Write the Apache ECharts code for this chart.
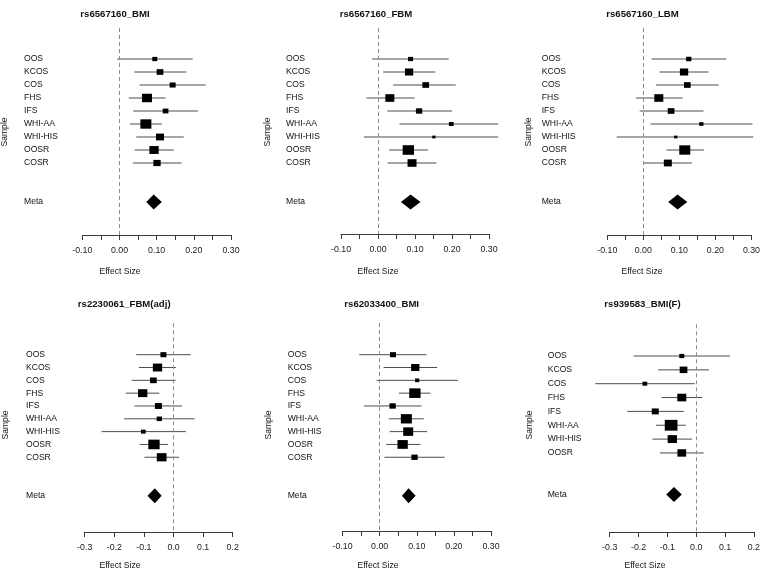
<!DOCTYPE html>
<html><head><meta charset="utf-8">
<script src="https://cdn.jsdelivr.net/npm/echarts@6/dist/echarts.min.js"></script>
<style>html,body{margin:0;padding:0;background:#fff}#c{width:763px;height:570px}</style>
</head><body><div id="c"></div>
<script>
// ---------------- DATA ----------------
const titles = ['rs6567160_BMI','rs6567160_FBM','rs6567160_LBM','rs2230061_FBM(adj)','rs62033400_BMI','rs939583_BMI(F)'];
const samples9 = ['OOS','KCOS','COS','FHS','IFS','WHI-AA','WHI-HIS','OOSR','COSR'];
const samples8 = ['OOS','KCOS','COS','FHS','IFS','WHI-AA','WHI-HIS','OOSR'];
const metaName = 'Meta';
const ticksA = ['-0.10','0.00','0.10','0.20','0.30'];
const ticksB = ['-0.3','-0.2','-0.1','0.0','0.1','0.2'];

// rs6567160_BMI
const p1Est = [0.095,0.109,0.143,0.074,0.124,0.071,0.109,0.093,0.101];
const p1Lo  = [-0.006,0.040,0.054,0.025,0.037,0.028,0.045,0.041,0.036];
const p1Hi  = [0.197,0.180,0.232,0.124,0.211,0.114,0.173,0.146,0.167];
const p1Wt  = [5,6.7,6,10,5.7,11,8,9.3,7.3];
const p1Meta = [0.092,0.072,0.114];
// rs6567160_FBM
const p2Est = [0.088,0.084,0.129,0.032,0.111,0.198,0.151,0.082,0.092];
const p2Lo  = [-0.016,0.014,0.041,-0.031,0.025,0.058,-0.038,0.030,0.026];
const p2Hi  = [0.191,0.155,0.210,0.099,0.200,0.325,0.325,0.135,0.158];
const p2Wt  = [5,8.3,6.7,9,6.3,4.7,3.3,11.3,9];
const p2Meta = [0.088,0.062,0.115];
// rs6567160_LBM
const p3Est = [0.126,0.113,0.122,0.043,0.077,0.161,0.090,0.115,0.068];
const p3Lo  = [0.023,0.045,0.035,-0.020,-0.010,0.020,-0.074,0.064,0.001];
const p3Hi  = [0.230,0.181,0.209,0.109,0.167,0.303,0.305,0.168,0.135];
const p3Wt  = [5.3,8.3,6.7,9,6.7,4.3,3.3,11,8];
const p3Meta = [0.095,0.069,0.122];
// rs2230061_FBM(adj)
const p4Est = [-0.034,-0.054,-0.068,-0.104,-0.051,-0.048,-0.102,-0.066,-0.040];
const p4Lo  = [-0.126,-0.117,-0.141,-0.161,-0.132,-0.167,-0.243,-0.114,-0.098];
const p4Hi  = [0.058,0.008,0.007,-0.048,0.029,0.071,0.042,-0.019,0.019];
const p4Wt  = [6,9.3,6.7,9.3,7,5.3,4.7,11.3,9.7];
const p4Meta = [-0.063,-0.088,-0.040];
// rs62033400_BMI
const p5Est = [0.036,0.096,0.101,0.095,0.035,0.072,0.077,0.062,0.094];
const p5Lo  = [-0.055,0.011,-0.008,0.052,-0.042,0.025,0.027,0.018,0.013];
const p5Hi  = [0.126,0.155,0.211,0.137,0.113,0.119,0.128,0.110,0.175];
const p5Wt  = [6,8.3,4.3,11.3,6.3,11,10,10.3,6.3];
const p5Meta = [0.078,0.060,0.097];
// rs939583_BMI(F)
const p6Est = [-0.050,-0.044,-0.178,-0.050,-0.142,-0.087,-0.083,-0.050];
const p6Lo  = [-0.217,-0.132,-0.350,-0.120,-0.239,-0.139,-0.152,-0.126];
const p6Hi  = [0.117,0.044,-0.005,0.021,-0.043,-0.036,-0.015,0.026];
const p6Wt  = [5,7.7,4.7,9,7,12.7,9.3,8.7];
const p6Meta = [-0.077,-0.104,-0.050];

// ---------------- LAYOUT / STYLE ----------------
const FONT = '"Liberation Sans", Arial, Helvetica, sans-serif';
const panels = [
  {names:samples9, est:p1Est, lo:p1Lo, hi:p1Hi, wt:p1Wt, meta:p1Meta, ticks:ticksA, step:0.05,
   left:82.3, width:148.7, top:28, bottom:235, row1:59, rowStep:13.0, labelX:24, sampleX:4.5, sampleY:132, titleX:115, titleY:14, xlabX:120, xlabY:271.5},
  {names:samples9, est:p2Est, lo:p2Lo, hi:p2Hi, wt:p2Wt, meta:p2Meta, ticks:ticksA, step:0.05,
   left:341, width:148, top:28, bottom:234, row1:59, rowStep:13.0, labelX:286, sampleX:267.3, sampleY:132, titleX:376, titleY:14, xlabX:378, xlabY:271.5},
  {names:samples9, est:p3Est, lo:p3Lo, hi:p3Hi, wt:p3Wt, meta:p3Meta, ticks:ticksA, step:0.05,
   left:607.3, width:148.5, top:28, bottom:235, row1:59, rowStep:13.0, labelX:541.7, sampleX:528.3, sampleY:132, titleX:642.5, titleY:14, xlabX:642, xlabY:271.5},
  {names:samples9, est:p4Est, lo:p4Lo, hi:p4Hi, wt:p4Wt, meta:p4Meta, ticks:ticksB, step:0.1,
   left:84.7, width:148, top:323.3, bottom:532, row1:354.7, rowStep:12.82, labelX:26, sampleX:5.7, sampleY:425, titleX:124.2, titleY:304, xlabX:120, xlabY:566},
  {names:samples9, est:p5Est, lo:p5Lo, hi:p5Hi, wt:p5Wt, meta:p5Meta, ticks:ticksA, step:0.05,
   left:342.5, width:148.5, top:323, bottom:531, row1:354.7, rowStep:12.82, labelX:287.7, sampleX:268.3, sampleY:425, titleX:381.7, titleY:304, xlabX:378, xlabY:566},
  {names:samples8, est:p6Est, lo:p6Lo, hi:p6Hi, wt:p6Wt, meta:p6Meta, ticks:ticksB, step:0.1,
   left:609.7, width:148, top:324.3, bottom:532, row1:356, rowStep:13.85, labelX:547.7, sampleX:530, sampleY:425, titleX:642.5, titleY:304, xlabX:645, xlabY:566}
];

const grid = [], xAxis = [], yAxis = [], series = [], graphic = [];

panels.forEach((p, k) => {
  grid.push({left:p.left, top:p.top, width:p.width, height:p.bottom - p.top, containLabel:false});
  const tickVals = p.ticks.map(parseFloat);
  xAxis.push({
    gridIndex:k, type:'value', min:tickVals[0], max:tickVals[tickVals.length-1], interval:p.step,
    axisLine:{show:true, onZero:false, lineStyle:{color:'#3a3a3a', width:1}},
    axisTick:{show:true, inside:false, length:5, lineStyle:{color:'#3a3a3a', width:1}},
    axisLabel:{show:true, margin:11, fontSize:8.8, color:'#1a1a1a', fontFamily:FONT, hideOverlap:false,
      formatter: v => { const i = tickVals.findIndex(t => Math.abs(t - v) < 1e-6); return i < 0 ? '' : p.ticks[i]; }},
    splitLine:{show:false}
  });
  // y in "row index" units, inverse so row 1 is at top
  const yMin = 1 - (p.row1 - p.top) / p.rowStep;
  const yMax = 1 + (p.bottom - p.row1) / p.rowStep;
  yAxis.push({gridIndex:k, type:'value', inverse:true, min:yMin, max:yMax, show:false});

  const n = p.names.length;
  const data = p.names.map((nm, i) => [i + 1, p.est[i], p.lo[i], p.hi[i], p.wt[i], 0]);
  data.push([n + 3, p.meta[0], p.meta[1], p.meta[2], 0, 1]);
  const labels = p.names.concat([metaName]);

  series.push({
    type:'custom', xAxisIndex:k, yAxisIndex:k, clip:false, silent:true,
    encode:{x:[1,2,3], y:0},
    data:data,
    renderItem:(params, api) => {
      const row = api.value(0), est = api.value(1), lo = api.value(2), hi = api.value(3), w = api.value(4), isMeta = api.value(5);
      const pe = api.coord([est, row]), pl = api.coord([lo, row]), ph = api.coord([hi, row]);
      const ch = [];
      ch.push({type:'text', style:{text:labels[params.dataIndex], x:p.labelX, y:pe[1], align:'left', verticalAlign:'middle',
        fontSize:8.6, fontFamily:FONT, fill:'#111'}});
      if (!isMeta) {
        ch.push({type:'line', shape:{x1:pl[0], y1:pl[1], x2:ph[0], y2:ph[1]}, style:{stroke:'#4d4d4d', lineWidth:1}});
        const s = w, h = w * 0.85;
        ch.push({type:'rect', shape:{x:pe[0] - s/2, y:pe[1] - h/2, width:s, height:h}, style:{fill:'#000'}});
      } else {
        const hh = 7.5;
        ch.push({type:'polygon', shape:{points:[[pl[0], pe[1]], [pe[0], pe[1] - hh], [ph[0], pe[1]], [pe[0], pe[1] + hh]]}, style:{fill:'#000'}});
      }
      return {type:'group', children:ch};
    },
    markLine:{silent:true, symbol:['none','none'], label:{show:false},
      lineStyle:{color:'#8c8c8c', type:[4,3], width:1}, data:[{xAxis:0}], animation:false}
  });

  graphic.push({type:'text', x:p.titleX, y:p.titleY, style:{text:titles[k], align:'center', verticalAlign:'middle',
    fontSize:9.6, fontWeight:'bold', fontFamily:FONT, fill:'#111'}});
  graphic.push({type:'text', x:p.xlabX, y:p.xlabY, style:{text:'Effect Size', align:'center', verticalAlign:'middle',
    fontSize:8.6, fontFamily:FONT, fill:'#111'}});
  graphic.push({type:'text', x:p.sampleX, y:p.sampleY, rotation:Math.PI/2, style:{text:'Sample', align:'center', verticalAlign:'middle',
    fontSize:8.6, fontFamily:FONT, fill:'#111'}});
});

const chart = echarts.init(document.getElementById('c'), null, {renderer:'canvas'});
chart.setOption({animation:false, backgroundColor:'#fff', grid, xAxis, yAxis, series, graphic});
</script>
</body></html>
